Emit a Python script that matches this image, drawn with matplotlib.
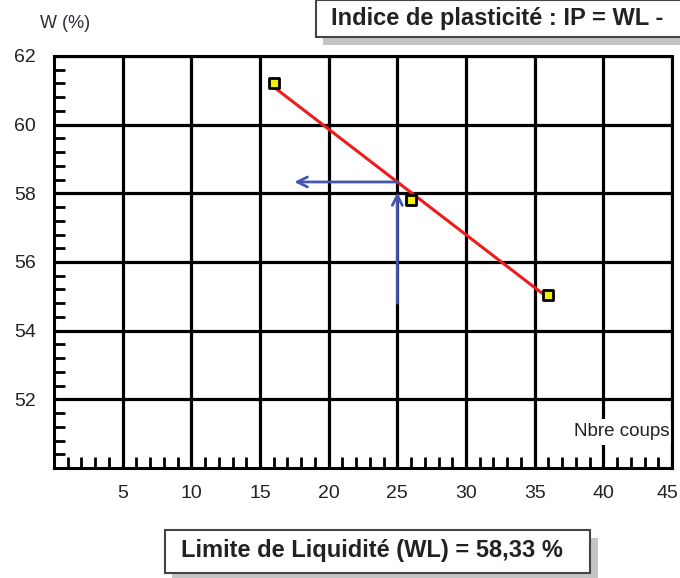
import matplotlib.pyplot as plt
import numpy as np
from matplotlib.markers import MarkerStyle
from matplotlib.patches import Rectangle
from matplotlib.ticker import MultipleLocator, FixedLocator
from matplotlib.transforms import ScaledTranslation

plt.rcParams['font.family'] = ['Liberation Sans', 'DejaVu Sans']

# essai de Casagrande : nombre de coups / teneur en eau
nb_coups = [16, 26, 36]
teneur_eau = [61.2, 57.82, 55.05]
x_ticks = [5, 10, 15, 20, 25, 30, 35, 40, 45]
y_ticks = [52, 54, 56, 58, 60, 62]
coups_ref = 25

W_PX, H_PX = 680, 578


def fig_box(fig, x0, y0, x1, y1, **kw):
    # rectangle en pixels (origine en haut a gauche)
    r = Rectangle((x0 / W_PX, 1 - y1 / H_PX), (x1 - x0) / W_PX,
                  (y1 - y0) / H_PX, transform=fig.transFigure, **kw)
    fig.patches.append(r)
    return r


def main():
    fig = plt.figure(figsize=(6.8, 5.78), dpi=100)
    ax = fig.add_axes([54 / W_PX, 1 - 468 / H_PX,
                       (672 - 54) / W_PX, (468 - 56) / H_PX])

    ab = np.polyfit(nb_coups, teneur_eau, 1)
    wl = np.poly1d(ab)(coups_ref)

    # droite d'ajustement
    xs = np.array([nb_coups[0], nb_coups[-1]])
    ax.plot(xs, np.poly1d(ab)(xs), color='#f01c1c', lw=2.2, zorder=4)

    # lecture de WL a 25 coups
    arrow = dict(arrowstyle='->', color='#4456b0', lw=2,
                 mutation_scale=18, shrinkA=0, shrinkB=0)
    ax.annotate('', xy=(coups_ref, wl - 0.3), xytext=(coups_ref, 54.8),
                arrowprops=arrow, zorder=5)
    ax.annotate('', xy=(17.5, wl), xytext=(coups_ref, wl),
                arrowprops=arrow, zorder=5)

    ax.plot(nb_coups, teneur_eau, ls='none',
            marker=MarkerStyle('s', joinstyle='round'), ms=7.5,
            mfc='#f2f200', mec='black', mew=2, zorder=6)

    ax.set_xlim(0, 45)
    ax.set_ylim(50, 62)
    ax.xaxis.set_major_locator(FixedLocator(x_ticks))
    ax.yaxis.set_major_locator(FixedLocator(y_ticks))
    ax.xaxis.set_minor_locator(MultipleLocator(1))
    ax.yaxis.set_minor_locator(MultipleLocator(0.4))
    ax.grid(True, which='major', color='black', lw=2.3)
    ax.set_axisbelow(True)
    ax.tick_params(which='major', length=0, labelsize=14, colors='#222222')
    ax.tick_params(axis='x', which='major', pad=12)
    ax.tick_params(axis='y', which='major', pad=13)
    ax.tick_params(which='minor', direction='in', length=8, width=2,
                   color='black')
    ax.tick_params(top=False, right=False, which='both')
    for s in ax.spines.values():
        s.set_linewidth(2.2)
        s.set_zorder(8)

    # le dernier libelle (45) touche le bord droit
    last = ax.get_xticklabels()[-1]
    last.set_transform(last.get_transform()
                       + ScaledTranslation(-5 / 100, 0, fig.dpi_scale_trans))

    ax.text(44.85, 51.05, 'Nbre coups', ha='right', va='center',
            fontsize=13.5, color='#222222', zorder=7,
            bbox=dict(fc='white', ec='none', pad=3))

    fig.text(40 / W_PX, 1 - 24 / H_PX, 'W (%)', ha='left', va='center',
             fontsize=13, color='#2a2a3a')

    # cadre IP (haut)
    fig_box(fig, 323, 36, 690, 45, fc='#c4c4c4', ec='none')
    fig_box(fig, 316, 0, 690, 37, fc='white', ec='#444444', lw=1.5)
    fig.text(331 / W_PX, 1 - 18 / H_PX, 'Indice de plasticité : IP = WL -',
             ha='left', va='center', fontsize=17, fontweight='bold',
             color='#222222')

    # cadre WL (bas)
    fig_box(fig, 172, 538, 598, 580, fc='#c4c4c4', ec='none')
    fig_box(fig, 165, 530, 590, 573, fc='white', ec='#444444', lw=1.5)
    label = 'Limite de Liquidité (WL) = %s %%' % ('%.2f' % wl).replace('.', ',')
    fig.text(372 / W_PX, 1 - 551 / H_PX, label, ha='center', va='center',
             fontsize=17, fontweight='bold', color='#222222')

    fig.savefig('out.png', dpi=100)


if __name__ == "__main__":
    main()
